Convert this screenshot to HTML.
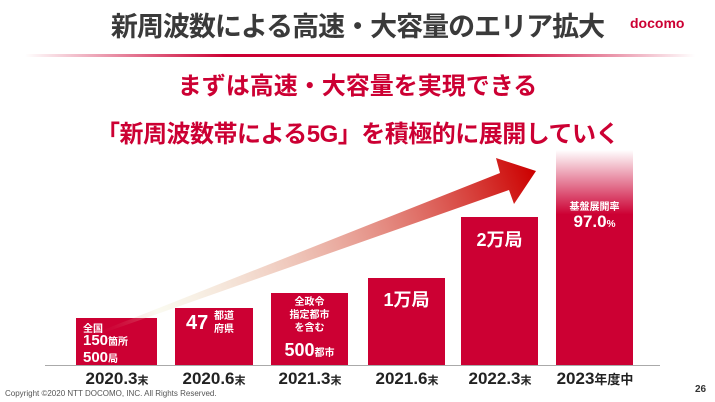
<!DOCTYPE html>
<html><head><meta charset="utf-8"><style>
body{margin:0;width:715px;height:402px;background:#fff;overflow:hidden;position:relative;font-family:"Liberation Sans","Noto Sans CJK JP",sans-serif}
.a{position:absolute;white-space:nowrap}
.bar{position:absolute;background:#cc0033;bottom:37px}
.w{color:#fff;font-weight:bold;position:absolute;white-space:nowrap}
.yr{position:absolute;top:369px;width:90px;text-align:center;font-weight:bold;font-size:17px;color:#222}
</style></head><body>
<div class="a" style="left:0;width:715px;top:5px;text-align:center;font-size:27px;font-weight:bold;color:#3a3a3a;letter-spacing:-1px">新周波数による高速・大容量のエリア拡大</div>
<div class="a" style="left:630px;top:15px;font-size:14px;font-weight:bold;color:#cc0033">docomo</div>
<div class="a" style="left:25px;top:54px;width:670px;height:3px;background:linear-gradient(90deg,rgba(204,0,51,0),#cc0033 30%,#cc0033 70%,rgba(204,0,51,0))"></div>
<div class="a" style="left:0;width:715px;top:66px;text-align:center;font-size:24px;font-weight:bold;color:#cc0033">まずは高速・大容量を実現できる</div>
<div class="a" style="left:0;width:715px;top:114px;text-align:center;font-size:24px;font-weight:bold;color:#cc0033;letter-spacing:-0.5px">「新周波数帯による5G」を積極的に展開していく</div>
<div class="a" style="left:45px;top:365px;width:615px;height:1px;background:#aaa"></div>
<div class="bar" style="left:76px;width:81px;top:318px"></div>
<div class="bar" style="left:175px;width:78px;top:308px"></div>
<div class="bar" style="left:271px;width:77px;top:293px"></div>
<div class="bar" style="left:368px;width:77px;top:278px"></div>
<div class="bar" style="left:461px;width:77px;top:217px"></div>
<div class="bar" style="left:556px;width:77px;top:150px;background:linear-gradient(180deg,rgba(204,0,51,0),#cc0033 30%)"></div>
<svg class="a" style="left:0;top:0" width="715" height="402"><defs><linearGradient id="g" x1="90" y1="335" x2="534" y2="171" gradientUnits="userSpaceOnUse"><stop offset="0" stop-color="#cc0033" stop-opacity="0"/><stop offset="0.15" stop-color="#eec" stop-opacity="0.3"/><stop offset="1" stop-color="#cc0000"/></linearGradient></defs>
<polygon points="88,336 500,173 496,158 536,171 514,204 509,190 92,337" fill="url(#g)"/></svg>
<div class="w" style="left:83px;top:320px;font-size:10px">全国</div>
<div class="w" style="left:83px;top:332px;font-size:15px">150<span style="font-size:10px">箇所</span></div>
<div class="w" style="left:83px;top:349px;font-size:15px">500<span style="font-size:10px">局</span></div>
<div class="w" style="left:186px;top:312px;font-size:20px">47</div>
<div class="w" style="left:214px;top:310px;font-size:10px;line-height:13px">都道<br>府県</div>
<div class="w" style="left:271px;width:77px;text-align:center;top:296px;font-size:10px;line-height:13px">全政令<br>指定都市<br>を含む</div>
<div class="w" style="left:271px;width:77px;text-align:center;top:340px;font-size:18px">500<span style="font-size:10px">都市</span></div>
<div class="w" style="left:368px;width:77px;text-align:center;top:286px;font-size:18px">1万局</div>
<div class="w" style="left:461px;width:77px;text-align:center;top:226px;font-size:18px">2万局</div>
<div class="w" style="left:556px;width:77px;text-align:center;top:198px;font-size:10px">基盤展開率</div>
<div class="w" style="left:556px;width:77px;text-align:center;top:212px;font-size:17px">97.0<span style="font-size:10px">%</span></div>
<div class="yr" style="left:72px">2020.3<span style="font-size:11px">末</span></div>
<div class="yr" style="left:169px">2020.6<span style="font-size:11px">末</span></div>
<div class="yr" style="left:265px">2021.3<span style="font-size:11px">末</span></div>
<div class="yr" style="left:362px">2021.6<span style="font-size:11px">末</span></div>
<div class="yr" style="left:455px">2022.3<span style="font-size:11px">末</span></div>
<div class="yr" style="left:545px;width:100px">2023<span style="font-size:13px">年度中</span></div>
<div class="a" style="left:5px;top:389px;font-size:8px;color:#555">Copyright ©2020 NTT DOCOMO, INC. All Rights Reserved.</div>
<div class="a" style="left:695px;top:384px;font-size:10px;font-weight:bold;color:#333">26</div>
</body></html>
